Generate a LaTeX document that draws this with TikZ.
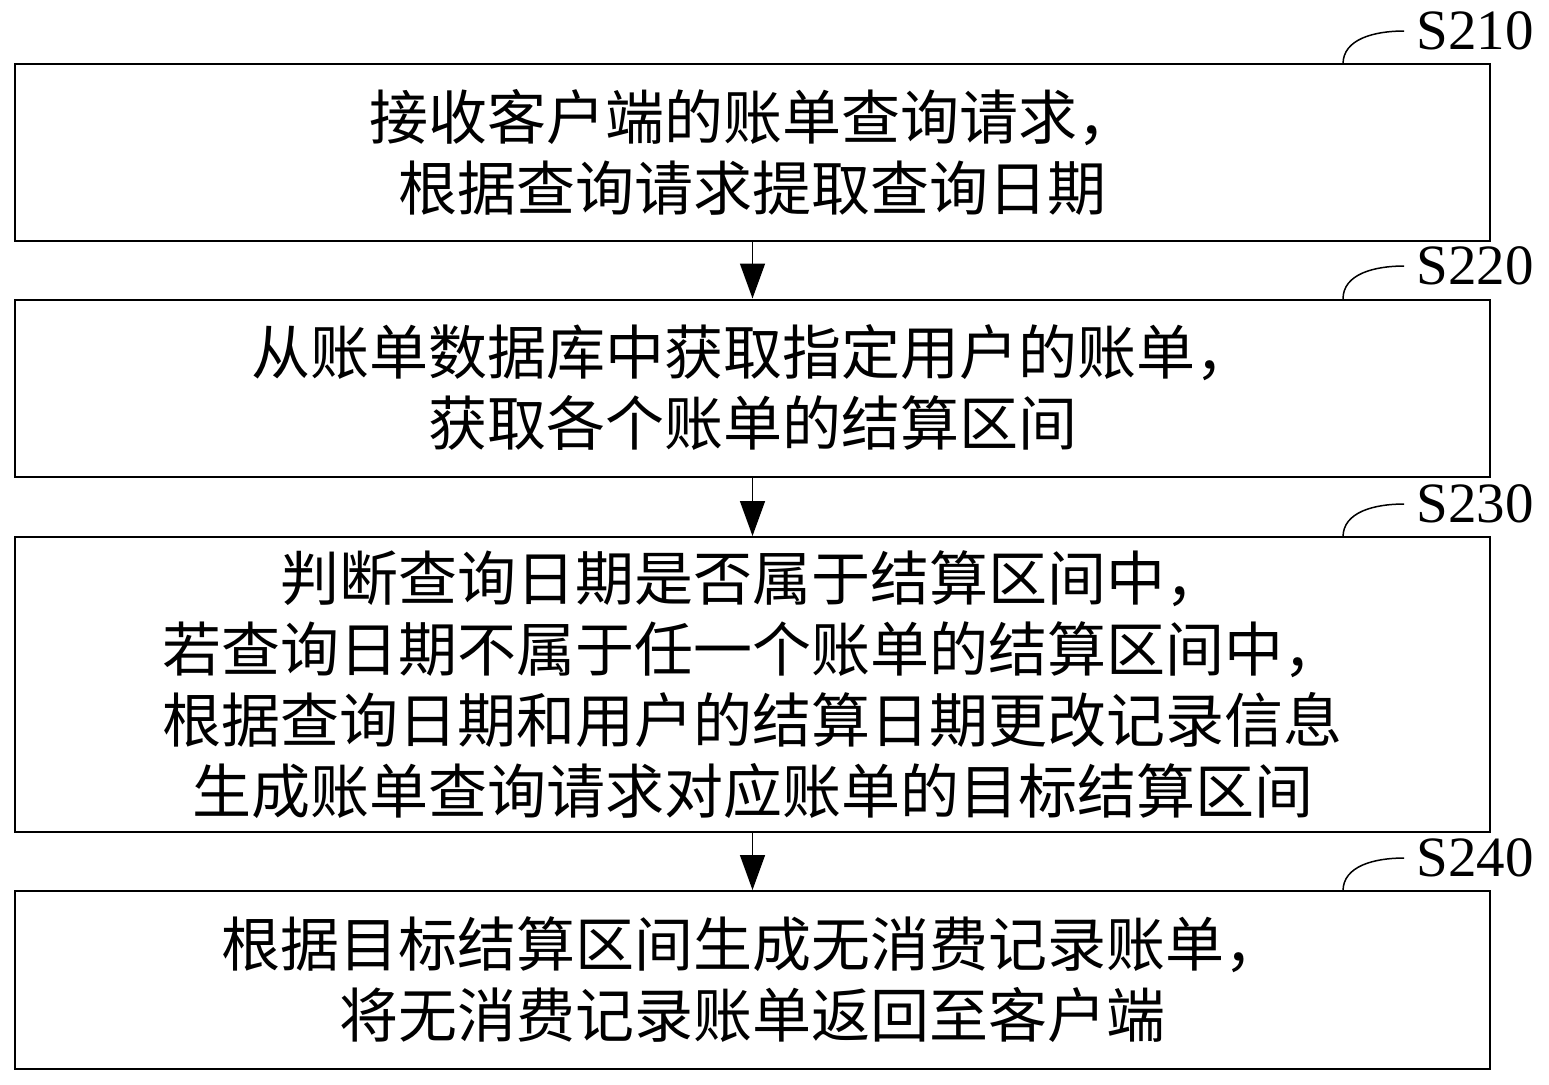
\documentclass[tikz,border=0pt]{standalone}
\usepackage{fontspec}
\newfontfamily\cjk{Noto Sans CJK SC}
\newfontfamily\lbs{Liberation Serif}
\usetikzlibrary{arrows.meta}
\begin{document}
\begin{tikzpicture}[x=1pt,y=-1pt,
  stepbox/.style={draw,line width=2pt,minimum width=1475pt,inner sep=0pt,align=center,
    font=\cjk\fontsize{59}{71}\selectfont},
  lbl/.style={inner sep=0pt,font=\lbs\fontsize{57}{62}\selectfont},
  flow/.style={line width=1.5pt,-{Triangle[width=25pt,length=35pt]}},
  lead/.style={line width=1.5pt}]
\useasboundingbox (0,0) rectangle (1549,1084);
\node[stepbox,minimum height=177pt] (b1) at (752.5,152.5) {接收客户端的账单查询请求，\\根据查询请求提取查询日期};
\node[stepbox,minimum height=177pt] (b2) at (752.5,388) {从账单数据库中获取指定用户的账单，\\获取各个账单的结算区间};
\node[stepbox,minimum height=295pt] (b3) at (752.5,684.5) {判断查询日期是否属于结算区间中，\\若查询日期不属于任一个账单的结算区间中，\\根据查询日期和用户的结算日期更改记录信息\\生成账单查询请求对应账单的目标结算区间};
\node[stepbox,minimum height=178pt] (b4) at (752.5,980) {根据目标结算区间生成无消费记录账单，\\将无消费记录账单返回至客户端};
\draw[flow] (b1.south) -- (b2.north);
\draw[flow] (b2.south) -- (b3.north);
\draw[flow] (b3.south) -- (b4.north);
\node[lbl] (l1) at (1475,31) {S210};
\node[lbl] (l2) at (1475,266) {S220};
\node[lbl] (l3) at (1475,504) {S230};
\node[lbl] (l4) at (1475,858) {S240};
\coordinate (c1) at (1343,64);
\coordinate (c2) at (1343,299);
\coordinate (c3) at (1343,537);
\coordinate (c4) at (1343,891);
\draw[lead] (c1) .. controls +(0,-25) and +(-30,0) .. ([xshift=-12pt]l1.west);
\draw[lead] (c2) .. controls +(0,-25) and +(-30,0) .. ([xshift=-12pt]l2.west);
\draw[lead] (c3) .. controls +(0,-25) and +(-30,0) .. ([xshift=-12pt]l3.west);
\draw[lead] (c4) .. controls +(0,-25) and +(-30,0) .. ([xshift=-12pt]l4.west);
\end{tikzpicture}
\end{document}
